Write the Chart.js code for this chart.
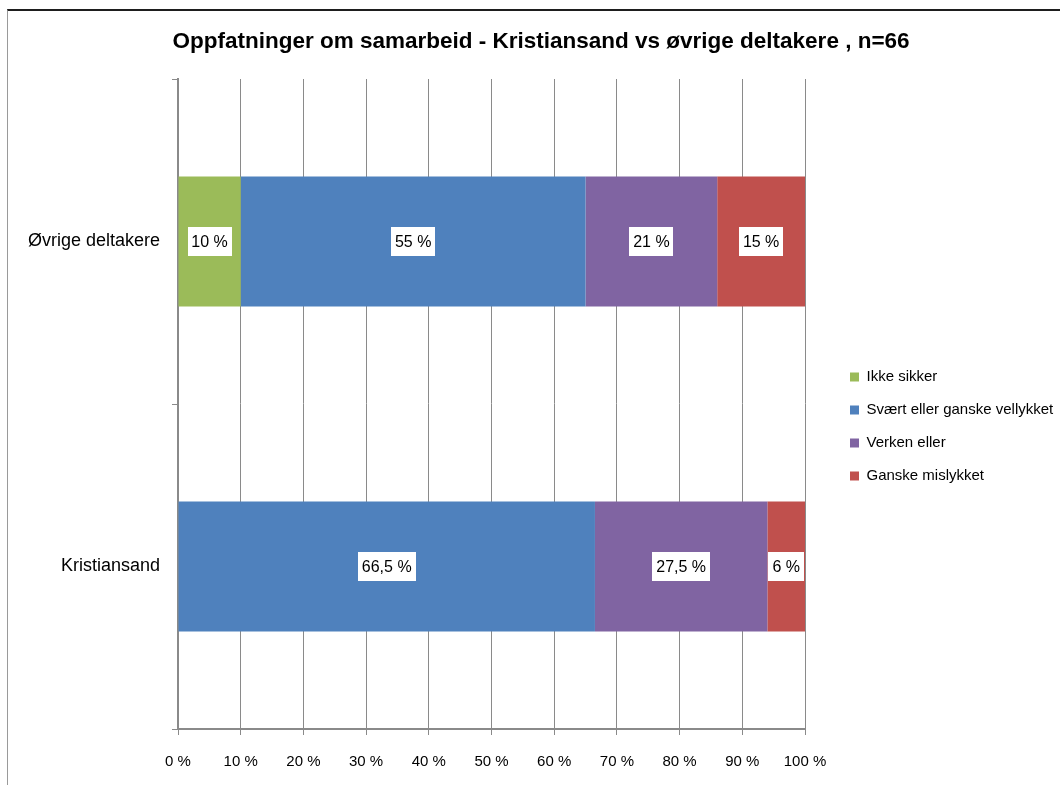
<!DOCTYPE html>
<html>
<head>
<meta charset="utf-8">
<script src="https://cdn.jsdelivr.net/npm/chart.js@4.4.0/dist/chart.umd.min.js"></script>
<style>
html,body{margin:0;padding:0;background:#fff;}
#wrap{position:relative;width:1060px;height:785px;overflow:hidden;background:#fff;}
#frame{position:absolute;left:7px;top:9px;width:1100px;height:900px;border-top:2px solid #1e1e1e;border-left:1px solid #9a9a9a;pointer-events:none;}
canvas{position:absolute;left:0;top:0;}
</style>
</head>
<body>
<div id="wrap"><canvas id="c" width="1060" height="785"></canvas><div id="frame"></div></div>
<script>
// ---- data ----
const categories = ['Øvrige deltakere', 'Kristiansand'];
const seriesNames = ['Ikke sikker', 'Svært eller ganske vellykket', 'Verken eller', 'Ganske mislykket'];
const ikkeSikker = [10, 0];
const svaertEllerGanskeVellykket = [55, 66.5];
const verkenEller = [21, 27.5];
const ganskeMislykket = [15, 6];
const xTickLabels = ['0 %', '10 %', '20 %', '30 %', '40 %', '50 %', '60 %', '70 %', '80 %', '90 %', '100 %'];
const titleText = 'Oppfatninger om samarbeid - Kristiansand vs øvrige deltakere , n=66';

// ---- styles ----
const colors = ['#9BBB59', '#4F81BD', '#8064A2', '#C0504D'];
const FONT = '"Liberation Sans", Arial, sans-serif';
Chart.defaults.font.family = FONT;
Chart.defaults.color = '#000';

const labelPlugin = {
  id: 'barLabels',
  afterDatasetsDraw(chart) {
    const ctx = chart.ctx, area = chart.chartArea;
    ctx.save();
    ctx.font = '16px ' + FONT;
    ctx.textAlign = 'center';
    ctx.textBaseline = 'middle';
    chart.data.datasets.forEach((ds, i) => {
      const meta = chart.getDatasetMeta(i);
      meta.data.forEach((el, j) => {
        const v = ds.data[j];
        if (!v) return;
        const x1 = Math.max(Math.min(el.base, el.x), area.left);
        const x2 = Math.min(Math.max(el.base, el.x), area.right);
        const cx = (x1 + x2) / 2, cy = el.y;
        const txt = String(v).replace('.', ',') + ' %';
        const w = Math.round(ctx.measureText(txt).width + 8);
        const h = 29;
        ctx.fillStyle = '#fff';
        ctx.fillRect(Math.round(cx - w / 2), Math.round(cy - h / 2), w, h);
        ctx.fillStyle = '#000';
        ctx.fillText(txt, cx, cy + 1);
      });
    });
    ctx.restore();
  }
};

// nudges legend and title boxes to the reference's placement
const boxShift = {
  id: 'boxShift',
  afterLayout(chart) {
    const lg = chart.legend;
    if (lg) { lg.left += 27; lg.right += 27; lg.top += 36; lg.bottom += 36; }
    const tb = chart.titleBlock;
    if (tb) { tb.left += 13.5; tb.right += 13.5; }
  }
};

const seriesData = [ikkeSikker, svaertEllerGanskeVellykket, verkenEller, ganskeMislykket];

new Chart(document.getElementById('c'), {
  type: 'bar',
  data: {
    labels: categories,
    datasets: seriesNames.map((name, i) => ({
      label: name,
      data: seriesData[i],
      backgroundColor: colors[i],
      borderWidth: 0
    }))
  },
  options: {
    indexAxis: 'y',
    responsive: false,
    animation: false,
    devicePixelRatio: 1,
    datasets: { bar: { categoryPercentage: 1, barPercentage: 0.4 } },
    layout: { padding: { left: 22, right: 27, top: 10, bottom: 14 } },
    scales: {
      x: {
        stacked: true, min: 0, max: 100,
        ticks: { stepSize: 10, color: '#000', font: { size: 15 }, padding: 18,
                 maxRotation: 0, callback: (v, i) => xTickLabels[i] },
        grid: { color: '#8a8a8a', lineWidth: 1, tickLength: 6, drawTicks: true },
        border: { color: '#8a8a8a', width: 2 },
        afterFit(s) { s.height = 42; }
      },
      y: {
        stacked: true,
        ticks: { color: '#000', font: { size: 18 }, padding: 12 },
        grid: { drawOnChartArea: false, tickLength: 6, color: '#8a8a8a', offset: true },
        border: { color: '#8a8a8a', width: 2 },
        afterFit(s) { s.width = 156; }
      }
    },
    plugins: {
      title: { display: true, text: titleText, color: '#000',
               font: { size: 22.5, weight: 'bold' }, padding: { top: 18.5, bottom: 23.5 } },
      legend: { position: 'right', maxWidth: 228,
                labels: { boxWidth: 9, boxHeight: 9, padding: 18, color: '#000', font: { size: 15 } } },
      tooltip: { enabled: false }
    }
  },
  plugins: [labelPlugin, boxShift]
});
</script>
</body>
</html>
